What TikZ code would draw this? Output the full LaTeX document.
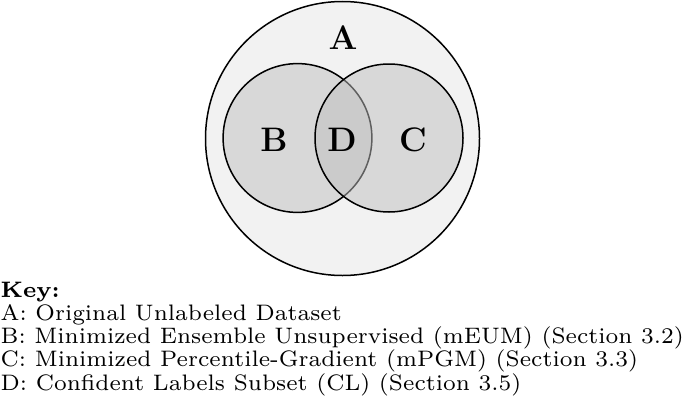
\documentclass[tikz,border=0pt]{standalone}
\begin{document}
\begin{tikzpicture}[x=0.5pt,y=-0.5pt,
  setcirc/.style={draw=black,line width=0.75pt},
  biglabel/.style={font=\fontsize{17}{20}\selectfont\bfseries,inner sep=0pt},
  keyline/.style={anchor=base west,inner sep=0pt,scale=1.6,font=\fontsize{7}{8.4}\selectfont}]
\useasboundingbox (0,0) rectangle (685,407);
\draw[setcirc,fill=black!5] (342.5,138.5) circle[radius=68.5pt];
\draw[setcirc,fill=black!25,fill opacity=0.5] (297.5,138) circle[radius=37.2pt];
\draw[setcirc,fill=black!25,fill opacity=0.5] (389,138) circle[radius=37pt];
\node[biglabel] (A) at (343,38) {A};
\node[biglabel] (B) at (274,140) {B};
\node[biglabel] (D) at (342,140) {D};
\node[biglabel] (C) at (413,140) {C};
\node[keyline,font=\fontsize{7}{8.4}\selectfont\bfseries] (k0) at (0,297) {Key:};
\node[keyline] (k1) at (0,320.3) {A: Original Unlabeled Dataset};
\node[keyline] (k2) at (0,343.6) {B: Minimized Ensemble Unsupervised (mEUM) (Section 3.2)};
\node[keyline] (k3) at (0,366.9) {C: Minimized Percentile-Gradient (mPGM) (Section 3.3)};
\node[keyline] (k4) at (0,390.2) {D: Confident Labels Subset (CL) (Section 3.5)};
\end{tikzpicture}
\end{document}
